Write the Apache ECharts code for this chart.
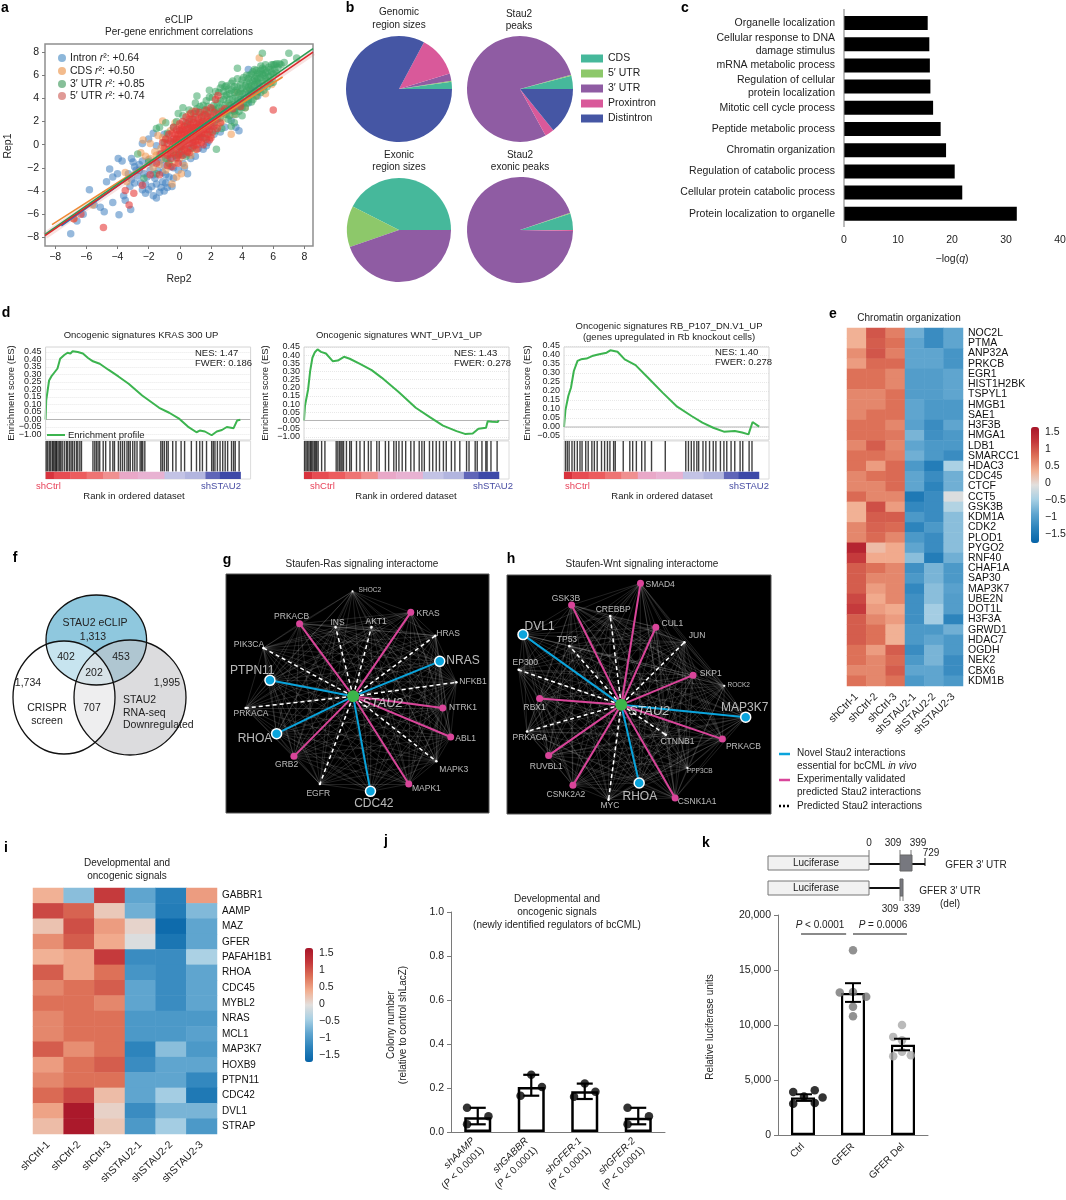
<!DOCTYPE html>
<html><head><meta charset="utf-8"><style>html,body{margin:0;padding:0;background:#fff}#c{width:1066px;height:1200px}</style>
<script src="https://cdn.jsdelivr.net/npm/echarts@6/dist/echarts.min.js"></script></head><body><div id="c"></div>
<script>
// ---------- DATA ----------
const aIntron=[[-7,-7.7],[-5.8,-3.9],[-5.1,-5.4],[-4.85,-5.8],[-4.3,-5],[-3.9,-6.05],[-3.15,-5.6],[-4.7,-3.2],[-4.5,-2.1],[-4.3,-2.8],[-4,-2.5],[-3.95,-1.2],[-3.7,-1.4],[-3.6,-4.4],[-3.5,-4.8],[-3,-1.5],[-2.9,-1.9],[-2.8,-2.2],[-2.7,-2.7],[-3.1,-3],[-3.2,-3.6],[-2.6,-1.7],[-2.5,-3.3],[-2.4,-3.9],[-2.3,-2.5],[-2.2,-4.2],[-2,-1.3],[-1.9,-2.2],[-1.8,-3.6],[-1.7,-4.4],[-1.6,-2.9],[-1.5,-4.6],[-1.4,-1.5],[-1.3,-0.8],[-1.2,-3.7],[-1.1,-2.4],[-1,-4],[-0.9,-3.3],[-0.8,-1.2],[-0.7,-2.8],[-0.6,-0.6],[-0.5,-3.6],[-0.4,-2],[-0.2,-1.2],[0,-0.4],[0.2,-1.6],[0.4,-0.8],[0.5,-2.5],[0.7,-1.2],[0.9,0.2],[1.2,-0.3],[1.5,-0.4],[1.8,0.2],[2.2,0.9],[2,1.6],[-2.4,0.1],[-2,0.5],[-1.7,1],[-1.5,-0.1],[3.6,1.5],[3.8,1.2],[4.4,3.6],[5,4.2],[4.4,6.5],[-6.2,-6],[-6.6,-6.6],[-5.5,-5.2],[-3.3,-2.5],[-3.1,-1.2],[-2.9,-3.3],[-2.6,-2.2],[-2.4,-1.4],[-2.2,-3.4],[-2.1,-2.8],[-2,-3.9],[-1.8,-1.6],[-1.7,-2.6],[-1.5,-3.4],[-1.4,-2.2],[-1.3,-4.1],[-1.2,-1.3],[-1.1,-3.2],[-1,-1.8],[-0.9,-2.6],[-0.8,-3.7],[-0.6,-1.9],[-0.5,-1.2],[-0.4,-2.9],[-0.3,-0.4],[-0.1,-2.2],[0.1,-0.9],[0.3,-2],[0.6,-0.3],[1,-1],[1.3,0.6],[1.7,-0.1],[2.6,1.1],[2.9,1.5],[3.3,2.1],[-1,0.9],[-0.7,0.4]];
const aCds=[[5.1,7.5],[-1.1,2.05],[3.3,0.9],[-2.35,0.4],[-3.5,-2.4],[-2.5,-0.7],[-2.2,-1],[-1.9,0.1],[-1.6,-0.6],[-1.4,0.8],[-1.2,-0.3],[-1,-1.2],[-0.8,0.5],[-0.6,1.2],[-0.5,-0.7],[-0.3,-1.6],[-0.1,0.7],[0.1,1.7],[0.2,-0.3],[0.4,0.9],[0.6,2.6],[0.7,-0.9],[0.9,1.5],[1.1,0.3],[1.3,2.6],[1.5,1.2],[1.8,2.1],[2,0.8],[2.3,3],[2.5,1.6],[2.9,2.6],[3.2,3.4],[3.7,4.5],[4.2,3.2],[4.6,4.7],[5.1,5],[5.5,4.4],[5.9,5.2],[-0.2,-2.8],[-0.5,-3.4],[0.1,-2.5],[-0.9,-2.2],[-1.7,-2],[0.3,-1.8],[-6.8,-6.4],[-5.6,-5.2],[-3.4,-3.2],[-1.9,-1.2],[-1.5,-0.9],[-1.3,-1.7],[-1.1,0.6],[-0.9,-0.4],[-0.7,-1.7],[-0.3,1.9],[-0.2,-0.6],[0,-1.2],[0.5,-0.6],[0.8,2.9],[1,-0.4],[1.2,1.6],[1.7,2.9],[2.1,1.9],[2.7,2],[3.5,2.6],[4,3.8],[4.9,4.2]];
const aUtr3=[[7,7.9],[5.3,7.9],[6.1,6.9],[6.4,7],[-1.5,1.4],[-1.3,1.5],[-1,0.2],[-0.8,1],[-0.6,-0.5],[-0.4,1.5],[-0.2,0.5],[-0.2,2],[0,1.2],[0,-0.8],[0.2,2.5],[0.3,0.3],[0.5,1.6],[0.6,3],[0.7,0.6],[0.9,2.2],[1,3.6],[1,1.1],[1.2,2.8],[1.3,0.9],[1.5,3.4],[1.6,1.8],[1.7,3.8],[1.8,2.7],[1.9,1.1],[2.1,3.1],[2.1,4.1],[2.2,1.9],[2.4,3.6],[2.5,4.5],[2.35,-0.4],[2.6,2.3],[2.7,3.2],[2.7,5.2],[2.9,4.2],[3,2.6],[3,5.1],[3.1,3.6],[3.3,4.7],[3.3,1.6],[3.4,3],[3.4,5.5],[3.6,4.1],[3.6,2.6],[3.7,6.6],[3.7,5],[3.8,3.3],[3.9,4.6],[4,5.6],[4,2.5],[4.1,4],[4.2,5.1],[4.2,3.2],[4.3,6],[4.4,4.4],[4.5,5.4],[4.6,3.7],[4.6,6.1],[4.7,4.9],[4.8,5.7],[4.8,6.5],[4.9,4.2],[5,5.3],[5,6.2],[5.1,4.8],[5.2,5.8],[5.3,6.6],[5.4,5.1],[5.5,6.2],[5.6,5.5],[5.7,6.7],[5.8,5.9],[5.9,6.3],[6,6.9],[6,5.4],[6.2,6.2],[6.5,6.9],[3.2,3.9],[3.5,3.5],[3.9,3.9],[4.3,4.8],[4.7,5.5],[4.4,5.7],[5.4,6],[2.9,3.4],[3.1,2.2],[2.4,2.7],[1.2,1.7],[0.8,1.3],[4.9,5.9],[5.2,6.4],[4.5,4.8],[4,4.4],[3.5,4.5],[3.2,3],[2.8,4.6],[2.2,3.4],[1.5,2.5],[-2,-1.5],[-1.5,-2.5],[-2.3,-2.9],[-2.7,-0.8],[-0.9,-1.2],[-0.3,-0.9],
[0.4,1.9],[0.6,2],[0.9,2.7],[1.1,3.1],[1.3,3.3],[1.4,2],[1.6,3],[1.8,3.3],[1.9,4.1],[2,2.4],[2.2,3],[2.3,4.6],[2.4,2.2],[2.5,3.2],[2.6,3.8],[2.6,4.9],[2.8,2.8],[2.8,3.9],[2.9,5],[3,3],[3,4.3],[3.1,4.8],[3.2,2.5],[3.2,4.4],[3.3,3.4],[3.3,5.3],[3.4,4],[3.5,2.9],[3.5,5],[3.6,3.2],[3.6,4.7],[3.7,3.8],[3.7,5.7],[3.8,4.4],[3.8,2.9],[3.9,5.2],[3.9,3.5],[4,4.9],[4,3.2],[4.1,5.8],[4.1,3.6],[4.2,4.5],[4.3,3.6],[4.3,5.4],[4.4,3.9],[4.4,5],[4.5,6],[4.5,4.2],[4.6,5.1],[4.6,4.4],[4.7,6.3],[4.7,3.9],[4.8,4.6],[4.8,5.2],[4.9,5.5],[4.9,6.4],[5,4.6],[5,5.7],[5.1,5.3],[5.1,6.1],[5.2,4.5],[5.2,6.8],[5.3,5.5],[5.3,6.1],[5.4,6.5],[5.4,4.7],[5.5,5.7],[5.5,6.9],[5.6,6.3],[5.6,5],[5.7,5.9],[5.8,6.5],[5.8,5.3],[5.9,6.9],[6,6.1],[6.1,6.5],[6.3,6.7],[6.2,7],[6.7,7.1],[7.5,7.5],[-0.7,-1.6],[-0.4,0.2],[0.1,-0.2],[0.4,-1],[0.8,-0.3],[1.6,0.6],[2.3,1.2],[2.7,1.4],[3.5,1.9],[1.1,4.2],[1.9,4.7],[0.2,3.2],[-0.1,2.7],[-0.9,1.9]];
const aUtr5=[[-4.9,-7.15],[6,3],[-3.25,-5.2],[-2.95,-4.2],[-3.5,-3.95],[-6.8,-6.4],[-6.35,-6],[2.45,4.25],[-1.2,-0.8],[-1.1,0.2],[-1,-0.3],[-0.9,0.5],[-0.8,-0.9],[-0.8,0.1],[-0.7,0.9],[-0.7,-0.4],[-0.6,0.3],[-0.6,-1.2],[-0.5,1],[-0.5,-0.2],[-0.4,0.5],[-0.4,-0.7],[-0.4,1.5],[-0.3,0],[-0.3,0.9],[-0.2,-0.4],[-0.2,0.5],[-0.2,1.3],[-0.1,-0.9],[-0.1,0.2],[-0.1,0.9],[0,-0.2],[0,0.5],[0,1.2],[0,1.8],[0.1,-0.6],[0.1,0.2],[0.1,0.9],[0.2,-0.1],[0.2,0.6],[0.2,1.3],[0.2,2],[0.3,-0.4],[0.3,0.3],[0.3,1],[0.3,1.6],[0.4,0],[0.4,0.7],[0.4,1.3],[0.5,-0.6],[0.5,0.4],[0.5,1],[0.5,1.8],[0.6,0.1],[0.6,0.8],[0.6,1.4],[0.6,2.2],[0.7,-0.3],[0.7,0.5],[0.7,1.1],[0.7,1.7],[0.8,0.2],[0.8,0.9],[0.8,1.5],[0.8,2.2],[0.9,-0.1],[0.9,0.6],[0.9,1.2],[0.9,1.9],[1,0.3],[1,0.9],[1,1.5],[1,2.4],[1.1,0],[1.1,0.7],[1.1,1.2],[1.1,1.8],[1.2,0.4],[1.2,1],[1.2,1.5],[1.2,2.2],[1.3,0.7],[1.3,1.3],[1.3,1.9],[1.4,0.2],[1.4,1],[1.4,1.6],[1.4,2.4],[1.5,0.6],[1.5,1.3],[1.5,2],[1.6,1],[1.6,1.6],[1.6,2.6],[1.7,0.5],[1.7,1.3],[1.7,2],[1.8,0.9],[1.8,1.6],[1.8,2.4],[1.9,1.3],[1.9,2],[2,1.7],[2,2.5],[2,0.6],[2.1,1.1],[2.1,2.1],[2.2,1.6],[2.2,2.8],[2.3,2.2],[2.4,1.4],[2.5,2.6],[2.6,1.9],[-1.5,-1.6],[-1.9,-2.6],[-0.5,-1.9],[-2.4,-3.5],[-0.1,-1.6],[2.3,3.9],[3.4,3.1],[3.9,3.3],[-1.3,-2.6],[-0.8,-1.8],[-0.3,0.4],[0.1,1.4],[0.4,2.4],[0.7,2.7],[1,2.9],[1.3,2.8],[1.7,3],[2,3.2],[2.7,2.9],[2.9,3.1],[-0.9,-0.7],[-0.6,-0.8],[-0.2,-1.1],[0.2,-0.9],[0.6,-0.7],[1.1,-0.4],[1.5,0],[1.9,0.4]];
const aLegend=[['Intron','+0.64'],['CDS','+0.50'],['3′ UTR','+0.85'],['5′ UTR','+0.74']];
const aFitIntron=[[-7.6,-7],[5.3,5.3]],aFitCds=[[-8.2,-6.9],[6.6,5.85]],aFitUtr3=[[-8.65,-7.75],[8.55,8.3]],aFitUtr5=[[-8.65,-7.85],[8.55,8]];
const axisTicks=[-8,-6,-4,-2,0,2,4,6,8];

const regionNames=['CDS','5′ UTR','3′ UTR','Proxintron','Distintron'];
const pieGenomic=[2.2,0.3,2.2,12.5,82.8];
const pieStau2=[4.0,0.3,78.8,2.8,14.2];
const pieExonic=[42.5,12.8,44.7,0,0];
const pieStau2Exonic=[5,0.3,94.4,0.3,0];

const goTerms=['Organelle localization','Cellular response to DNA\ndamage stimulus','mRNA metabolic process','Regulation of cellular\nprotein localization','Mitotic cell cycle process','Peptide metabolic process','Chromatin organization','Regulation of catabolic process','Cellular protein catabolic process','Protein localization to organelle'];
const goValues=[15.5,15.8,15.9,16,16.5,17.9,18.9,20.5,21.9,32];

const d1Curve=[[0,0],[0.3,0.127],[1.7,0.26],[2.8,0.287],[4.1,0.31],[5.8,0.34],[7.1,0.405],[9.1,0.43],[10.7,0.445],[12.1,0.44],[13.2,0.455],[15.7,0.45],[18.2,0.44],[20.7,0.41],[23.1,0.388],[26.4,0.372],[30.6,0.332],[35.5,0.287],[40.5,0.238],[47.1,0.16],[55.4,0.078],[60.3,0.045],[65.3,0.004],[69.4,-0.047],[73.6,-0.085],[75.2,-0.074],[77.7,-0.08],[81,-0.105],[83.5,-0.08],[86,-0.07],[88.4,-0.05],[91.7,-0.058],[93.4,-0.007],[95,-0.002]];
const d2Curve=[[0,0],[0.5,0.092],[1.3,0.098],[2,0.19],[3,0.302],[4.1,0.384],[5.3,0.418],[6.6,0.435],[8.3,0.42],[10.7,0.41],[14,0.363],[16.5,0.367],[19.5,0.39],[22.3,0.378],[27.3,0.347],[33,0.308],[38,0.261],[46.3,0.173],[54.5,0.078],[61.2,0.022],[67.8,-0.031],[74.4,-0.065],[78.5,-0.082],[82.3,-0.08],[85.1,-0.051],[88.8,-0.045],[89.6,-0.004],[91.7,-0.008],[94.5,-0.01],[95,0.002]];
const d3Curve=[[0,0],[0.7,0.094],[2.1,0.172],[3.4,0.218],[4.8,0.311],[6.6,0.367],[8.3,0.376],[11,0.38],[13.7,0.394],[17.2,0.404],[20.8,0.413],[22.6,0.426],[26.1,0.418],[29.6,0.376],[34.9,0.344],[41,0.274],[48.1,0.191],[55.2,0.113],[62.2,0.061],[67.5,0.024],[72.8,-0.004],[78,-0.026],[83.3,-0.022],[86.9,-0.031],[90,-0.041],[92,0.028],[95.2,0.002]];
const d1Hits=[0.3,1,1.8,2.5,3.3,3.8,4.5,5,5.4,6.1,6.8,7.4,8.1,9.1,10.1,10.7,11.6,12.4,13.1,14,15,15.7,16.7,17.5,23.1,24,24.8,25.6,26.4,28.1,29.3,31.4,32.8,33.6,35.5,36.5,37.5,38.5,39.7,40.5,41.3,42.5,43.5,44.6,46.1,46.8,47.4,48.4,56.2,57,57.9,59,59.8,62,63.6,66.1,67.8,71.1,73.6,75.2,76.5,78.5,81,81.8,82.6,83.8,85.1,86.4,87.6,88.8,90.7,91.7,92.5,94.4];
const d2Hits=[0.3,1,1.7,2.4,3.1,3.6,4.3,5,5.6,6.2,6.9,8.6,10.2,15.7,16.5,17.3,18,18.6,19.3,20.7,22.3,23.1,25.6,27.3,29.4,31.4,32.7,35.5,36.7,39.7,41.3,43.8,45,46.3,47.9,49.6,52.1,53.7,56.2,57.5,58.7,61.2,62.8,64.5,66.1,68,69.4,71.9,73.6,76,79.3,80.5,83.5,84.5,86.8,88.7,89.3,91.2,94.2];
const d3Hits=[0.7,1.6,2.5,3.9,5.1,6.5,7.8,8.8,10.6,11.8,13.6,14.8,16.2,18.3,19.8,21.2,22.4,24.2,25,28.9,32.1,33.5,35.3,37.9,39.5,42.7,49.4,59.4,60.7,62.1,63.4,64.8,65.7,67.8,69.2,71,72.8,74.1,76.3,78,79.4,81.5,83.3,85.9,87.2,90.3,91.7];
const rankBands=[[0,4,'#d8333d'],[4,12,'#e74c52'],[12,20,'#ec5c5e'],[20,28,'#ee7474'],[28,36,'#f09090'],[36,45,'#e9a8c8'],[45,58,'#e8b2d2'],[58,68,'#c3c3e5'],[68,78,'#b2b5df'],[78,85,'#5f65b8'],[85,95,'#3d49a8']];

const sampleLabels=['shCtrl-1','shCtrl-2','shCtrl-3','shSTAU2-1','shSTAU2-2','shSTAU2-3'];
const eGenes=['NOC2L','PTMA','ANP32A','PRKCB','EGR1','HIST1H2BK','TSPYL1','HMGB1','SAE1','H3F3B','HMGA1','LDB1','SMARCC1','HDAC3','CDC45','CTCF','CCT5','GSK3B','KDM1A','CDK2','PLOD1','PYGO2','RNF40','CHAF1A','SAP30','MAP3K7','UBE2N','DOT1L','H3F3A','GRWD1','HDAC7','OGDH','NEK2','CBX6','KDM1B'];
const eValues=[[.4,1.05,.75,-.75,-1.15,-.85],[.4,1,.85,-.85,-1.15,-.85],[.65,1.05,.75,-.85,-.85,-1.05],[.55,.9,.9,-.85,-.85,-1.05],[.85,.85,.7,-.95,-.95,-.85],[.85,.85,.7,-.95,-.95,-.85],[.7,.7,.85,-.95,-.95,-.85],[.7,.7,.85,-.85,-1,-1],[.7,.85,.85,-.85,-1,-1],[.85,.85,.7,-.9,-1.15,-.85],[.85,.85,.8,-.7,-1.1,-1],[.7,1,.7,-.85,-1,-1],[.85,.85,.75,-.75,-1,-1.15],[.85,.55,.9,-1,-1.35,-.4],[.7,.85,.9,-.85,-1.15,-.75],[.7,.7,.9,-.85,-1.25,-.75],[.9,.7,.7,-1.4,-1.15,-.05],[.4,1.1,.55,-1.2,-1.15,-.35],[.4,1,1,-1,-1.15,-.6],[.7,.95,.9,-1.25,-1,-.6],[.7,.9,.7,-1,-1.15,-.6],[1.5,.3,.45,-.85,-1.15,-.6],[1.25,.45,.45,-.6,-1.35,-.75],[1,.85,.7,-1.1,-.7,-1],[1,.7,.7,-1,-.7,-1],[1,.55,.7,-1.2,-.6,-.9],[1.15,.45,.7,-1.1,-.6,-.95],[1.25,.55,.45,-1.1,-.45,-.95],[1,.7,.55,-1.1,-.45,-1.25],[1,.85,.4,-1,-1,-.75],[1,.85,.4,-1,-.85,-1],[.85,.55,1,-1.15,-.7,-1],[.85,.7,.9,-1,-.7,-1.15],[.7,.7,1,-.85,-.85,-1.15],[.85,.7,.85,-1,-.85,-1]];
const iGenes=['GABBR1','AAMP','MAZ','GFER','PAFAH1B1','RHOA','CDC45','MYBL2','NRAS','MCL1','MAP3K7','HOXB9','PTPN11','CDC42','DVL1','STRAP'];
const iValues=[[.4,-.6,1.25,-.85,-1.3,.55],[1.15,.95,.2,-.75,-1.35,-.65],[.25,1.1,.55,.1,-1.6,-.85],[.65,1,.45,-.05,-1.45,-.85],[.4,.5,1.25,-1.15,-1.15,-.4],[1,.5,.85,-1.05,-1.15,-.85],[.7,.85,1,-.85,-1.15,-.85],[.85,.85,.7,-.85,-1.15,-.85],[.7,.85,.85,-1,-1,-1],[.7,.85,.85,-1,-1,-.9],[1,.65,.85,-1.25,-.6,-1],[.55,.85,1,-1.15,-.85,-.85],[.7,.85,.85,-.85,-.85,-1.2],[.9,1.15,.3,-.85,-.45,-1.4],[.5,1.65,.12,-1.15,-.7,-.7],[.3,1.65,.22,-1,-.45,-1]];
const heatColors=['#0664a8','#2a82bb','#5fa5cf','#a8d0e4','#e2dfdd','#f2ae90','#dd7158','#c4373a','#a81529'];

const gNames=['STAU2','SHOC2','KRAS','HRAS','NRAS','NFKB1','NTRK1','ABL1','MAPK3','MAPK1','CDC42','EGFR','GRB2','RHOA','PRKACA','PTPN11','PIK3CA','PRKACB','INS','AKT1'];
const gKinds=['hub','faint','pink','dash','blue','dash','pink','pink','dash','pink','blue','dash','pink','blue','dash','blue','dash','pink','dash','dash'];
const gX=[415,413,588,662,675,725,684,708,665,582,467,315,237,185,92,165,145,254,362,470];
const gY=[470,155,218,288,365,428,505,592,665,733,755,733,650,582,505,422,325,252,262,262];
const gTextX=[503,465,640,700,745,775,745,753,717,635,477,310,215,120,108,112,102,230,368,484];
const gTextY=[490,152,222,283,362,425,505,597,690,747,792,763,675,596,522,393,316,232,248,246];
const hNames=['STAU2','SMAD4','GSK3B','CREBBP','CUL1','JUN','DVL1','TP53','EP300','SKP1','ROCK2','RBX1','MAP3K7','PRKACA','PRKACB','CTNNB1','RUVBL1','PPP3CB','RHOA','CSNK2A2','MYC','CSNK1A1'];
const hKinds=['hub','pink','pink','dash','pink','dash','blue','dash','dash','pink','faint','pink','blue','dash','pink','dash','pink','faint','blue','pink','dash','pink'];
const hX=[378,436,229,345,482,568,83,222,70,594,688,133,752,95,682,512,160,577,432,233,340,540];
const hY=[495,130,195,228,262,307,284,318,390,406,438,476,532,575,598,585,647,685,730,737,780,775];
const hTextX=[462,495,212,354,532,606,133,215,90,647,731,118,749,104,745,547,153,614,434,212,344,606];
const hTextY=[514,133,175,208,251,288,260,300,369,400,435,505,503,594,620,605,682,695,770,765,799,787];

const vennCounts=['1,313','402','453','202','1,734','1,995','707'];

const jCats=['shAAMP','shGABBR','shGFER-1','shGFER-2'];
const jMeans=[0.067,0.205,0.185,0.065];
const jLow=[0.035,0.165,0.15,0.035];
const jHigh=[0.11,0.26,0.22,0.11];
const jDots=[[-0.2,0.11],[-0.2,0.035],[0.2,0.072],[0.8,0.165],[1,0.26],[1.2,0.205],[1.8,0.16],[2,0.22],[2.2,0.183],[2.8,0.11],[2.8,0.035],[3.2,0.072]];

const kCats=['Ctrl','GFER','GFER Del'];
const kMeans=[3400,12900,8200];
const kLow=[3100,12100,7700];
const kHigh=[3700,13800,8750];
const kCtrlDots=[[-0.22,3910],[0.22,4065],[-0.22,2850],[0.22,2900],[0.38,3400],[0,3500]];
const kGferDots=[[1,16800],[0.73,12960],[1,13000],[1.27,12560],[1,11650],[1,10800]];
const kDelDots=[[2,10000],[1.82,8920],[2,8620],[2,7560],[1.82,7160],[2.18,7250]];
const kBrackets=[[[-0.06,18270],[0.86,18270]],[[1,18270],[2.1,18270]]];

// ---------- BUILDERS ----------
const FONT='Liberation Sans',INK='#222',AX='#7a7a7a';
const grids=[],xAxes=[],yAxes=[],series=[],graphics=[],visualMaps=[];
const addGrid=o=>(grids.push(Object.assign({containLabel:false,outerBoundsMode:'none'},o)),grids.length-1);
const addX=o=>(xAxes.push(o),xAxes.length-1);
const addY=o=>(yAxes.push(o),yAxes.length-1);
const minus=v=>String(v).replace('-','−');
function txt(text,x,y,o={}){graphics.push({type:'text',x,y,rotation:o.rotation||0,z:50,silent:true,style:{text,fill:o.fill||INK,fontFamily:FONT,fontSize:o.size||10,fontWeight:o.weight||'normal',fontStyle:o.fontStyle||'normal',textAlign:o.align||'center',textVerticalAlign:'middle',rich:o.rich}})}
function seg(x1,y1,x2,y2,stroke,lineWidth,lineDash){graphics.push({type:'line',z:40,silent:true,shape:{x1,y1,x2,y2},style:{stroke,lineWidth,lineDash}})}
function box(x,y,width,height,fill,stroke,lw){graphics.push({type:'rect',z:41,silent:true,shape:{x,y,width,height},style:{fill,stroke,lineWidth:lw||1}})}
const italic=s=>({i:{fontStyle:'italic',fontFamily:FONT,fontSize:s,fill:INK}});

// panel letters
[['a',5,8],['b',350,8],['c',685,8],['d',6,313],['e',833,314],['f',15,558],['g',227,560],['h',511,559],['i',6,848],['j',386,841],['k',706,843]].forEach(p=>txt(p[0],p[1],p[2],{size:14,weight:'bold',fill:'#000'}));

// ---- a: scatter ----
(function(){
 const g=addGrid({left:45,top:44,width:268,height:202,show:true,borderColor:'#8f8f8f',borderWidth:1.5,backgroundColor:'#fff'});
 const lab={fontSize:10.5,color:INK,margin:6,formatter:minus,customValues:axisTicks};
 const x=addX({gridIndex:g,type:'value',min:-8.65,max:8.55,splitLine:{show:false},axisLine:{show:false,onZero:false},axisTick:{length:3,lineStyle:{color:AX},customValues:axisTicks},axisLabel:lab});
 const y=addY({gridIndex:g,type:'value',min:-8.75,max:8.7,splitLine:{show:false},axisLine:{show:false,onZero:false},axisTick:{length:3,lineStyle:{color:AX},customValues:axisTicks},axisLabel:lab});
 [[aIntron,'#3f80c0',.55],[aCds,'#f0984e',.55],[aUtr3,'#3ba565',.55],[aUtr5,'#e63a38',.6]].forEach(s=>series.push({type:'scatter',xAxisIndex:x,yAxisIndex:y,data:s[0],symbolSize:7.5,itemStyle:{color:s[1],opacity:s[2]},silent:true}));
 series.push({type:'line',xAxisIndex:x,yAxisIndex:y,data:aFitUtr5,symbol:'none',silent:true,lineStyle:{color:'#e07a70',width:7,opacity:.22}});
 [[aFitIntron,'#2f6fb7'],[aFitCds,'#ee8a35'],[aFitUtr3,'#2a9d55'],[aFitUtr5,'#d8282c']].forEach(s=>series.push({type:'line',xAxisIndex:x,yAxisIndex:y,data:s[0],symbol:'none',silent:true,lineStyle:{color:s[1],width:1.6}}));
 const cols=['#8db7da','#f3bb8c','#86bf98','#e09a96'];
 aLegend.forEach((l,i)=>{const yy=[58,71,84,96][i];graphics.push({type:'circle',z:45,silent:true,shape:{cx:62,cy:yy,r:4},style:{fill:cols[i]}});
  txt(l[0]+' {i|r}²: '+l[1],70,yy,{size:10.5,align:'left',rich:italic(10.5)});});
 txt('eCLIP',179,20,{size:10});txt('Per-gene enrichment correlations',179,32,{size:10});
 txt('Rep1',8,146,{size:10.5,rotation:Math.PI/2});txt('Rep2',179,279,{size:10.5});
})();

// ---- b: pies ----
const regionColors=['#46b89b','#8dc86a','#8f5ca3','#d9599a','#4556a4'];
[[pieGenomic,399,89,53],[pieStau2,520,89,53],[pieExonic,399,230,52],[pieStau2Exonic,520,230,53]].forEach(p=>{
 series.push({type:'pie',center:[p[1],p[2]],radius:[0,p[3]],startAngle:0,clockwise:false,silent:true,label:{show:false},labelLine:{show:false},
  data:p[0].map((v,i)=>({name:regionNames[i],value:v,itemStyle:{color:regionColors[i]}}))});
});
[['Genomic',399,12],['region sizes',399,25],['Stau2',519,14],['peaks',519,26],['Exonic',399,155],['region sizes',399,167],['Stau2',520,155],['exonic peaks',520,167]].forEach(t=>txt(t[0],t[1],t[2],{size:10}));

// ---- c: bars ----
(function(){
 const g=addGrid({left:844,top:12.4,width:216,height:212});
 const x=addX({gridIndex:g,type:'value',min:0,max:40,interval:10,position:'bottom',offset:3,splitLine:{show:false},axisLine:{onZero:false,lineStyle:{color:AX}},axisTick:{length:4,lineStyle:{color:AX}},axisLabel:{fontSize:10.5,color:INK,margin:7},
   name:'−log({i|q})',nameLocation:'middle',nameGap:26,nameTextStyle:{fontSize:10.5,color:INK,rich:{i:{fontStyle:'italic',fontSize:10.5,color:INK}}}});
 const y=addY({gridIndex:g,type:'category',inverse:true,data:goTerms,axisLine:{show:false,onZero:false},axisTick:{length:4,alignWithLabel:true,lineStyle:{color:AX}},axisLabel:{interval:0,fontSize:10.5,color:INK,margin:9,align:'right',lineHeight:13}});
 series.push({type:'bar',xAxisIndex:x,yAxisIndex:y,data:goValues,barWidth:14,itemStyle:{color:'#000'},silent:true});
 seg(844,9,844,227,AX,1);
})();

// ---- d: GSEA ----
function gsea(o){
 box(o.left,347,205,93,null,'#d4d4d4',1);
 const g=addGrid({left:o.left,top:o.top,width:205,height:o.h});
 const x=addX({gridIndex:g,type:'value',min:0,max:100,interval:20,axisLabel:{show:false},axisTick:{show:false},axisLine:{show:false,onZero:false},splitLine:{show:false}});
 const y=addY({gridIndex:g,type:'value',min:o.min,max:.5,interval:.05,axisLine:{show:false,onZero:false},axisTick:{show:false},splitLine:{show:true,showMinLine:false,showMaxLine:false,lineStyle:{color:'#e8e8e8',type:'dotted'}},
   axisLabel:{fontSize:9,color:INK,margin:4,formatter:v=>{if(+v>.47||+v<o.min+.01)return '';const s=(+v).toFixed(2);return s==='-0.10'?'−1.00':minus(s)}}});
 series.push({type:'line',xAxisIndex:x,yAxisIndex:y,data:[[0,0],[100,0]],symbol:'none',silent:true,lineStyle:{color:'#b5b5b5',width:1}});
 series.push({type:'line',xAxisIndex:x,yAxisIndex:y,data:o.curve,symbol:'none',silent:true,lineStyle:{color:'#3cb44f',width:2}});
 const g2=addGrid({left:o.left,top:441,width:205,height:38,show:true,borderColor:'#dcdcdc',borderWidth:1});
 const x2=addX({gridIndex:g2,type:'value',min:0,max:100,show:false});
 const y2=addY({gridIndex:g2,type:'value',min:0,max:1,show:false});
 series.push({type:'custom',xAxisIndex:x2,yAxisIndex:y2,silent:true,data:o.hits.map(h=>[h]),encode:{x:0},renderItem:(p,api)=>{const a=api.coord([api.value(0),.2]),b=api.coord([api.value(0),1]);
   return {type:'line',shape:{x1:a[0],y1:a[1],x2:b[0],y2:b[1]},style:{stroke:'rgba(0,0,0,.75)',lineWidth:1.4}}}});
 series.push({type:'custom',xAxisIndex:x2,yAxisIndex:y2,silent:true,data:rankBands,encode:{x:[0,1]},renderItem:(p,api)=>{const a=api.coord([api.value(0),.19]),b=api.coord([api.value(1),0]);
   return {type:'rect',shape:{x:a[0],y:a[1],width:b[0]-a[0]+.5,height:b[1]-a[1]},style:{fill:rankBands[p.dataIndex][2]}}}});
 o.title.forEach((t,i)=>txt(t,o.titleX,o.titleY+i*11,{size:9.5}));
 txt('NES: '+o.nes,o.nesX,o.nesY,{size:9.5,align:'left'});
 txt('FWER: '+o.fwer,o.nesX,o.nesY+10.5,{size:9.5,align:'left'});
 txt('Enrichment score (ES)',o.nameX,393,{size:9.5,rotation:Math.PI/2});
 txt('shCtrl',o.ctrlX,486,{size:9.5,fill:'#e8445a',align:'left'});
 txt('shSTAU2',o.stauX,486,{size:9.5,fill:'#474ca3',align:'right'});
 txt('Rank in ordered dataset',o.rankX,496,{size:9.5});
}
gsea({left:45.6,top:344.5,h:97.5,min:-.15,curve:d1Curve,hits:d1Hits,title:['Oncogenic signatures KRAS 300 UP'],titleX:141,titleY:335,nes:'1.47',fwer:'0.186',nesX:195,nesY:353,nameX:11,ctrlX:36,stauX:241,rankX:134});
gsea({left:304,top:338.8,h:106.2,min:-.15,curve:d2Curve,hits:d2Hits,title:['Oncogenic signatures WNT_UP.V1_UP'],titleX:399,titleY:335,nes:'1.43',fwer:'0.278',nesX:454,nesY:353,nameX:265,ctrlX:310,stauX:513,rankX:406});
gsea({left:564,top:337,h:108,min:-.1,curve:d3Curve,hits:d3Hits,title:['Oncogenic signatures RB_P107_DN.V1_UP','(genes upregulated in Rb knockout cells)'],titleX:669,titleY:326,nes:'1.40',fwer:'0.278',nesX:715,nesY:352,nameX:527,ctrlX:565,stauX:769,rankX:662});
seg(47,435,65,435,'#3cb44f',2);txt('Enrichment profile',68,435,{size:9.5,align:'left'});

// ---- e, i: heatmaps ----
function heat(o){
 const g=addGrid({left:o.left,top:o.top,width:o.w,height:o.h});
 const x=addX({gridIndex:g,type:'category',data:sampleLabels,position:'bottom',axisLine:{show:false,onZero:false},axisTick:{show:false},splitLine:{show:false},axisLabel:{interval:0,rotate:45,fontSize:10.5,color:INK,margin:9}});
 const y=addY({gridIndex:g,type:'category',inverse:true,position:'right',data:o.genes,axisLine:{show:false,onZero:false},axisTick:{show:false},splitLine:{show:false},axisLabel:{interval:0,fontSize:o.fs,color:'#111',margin:5}});
 const data=[];o.vals.forEach((r,j)=>r.forEach((v,i)=>data.push([i,j,v])));
 series.push({type:'heatmap',xAxisIndex:x,yAxisIndex:y,data,silent:true,itemStyle:{borderWidth:0},emphasis:{disabled:true}});
 visualMaps.push({type:'continuous',seriesIndex:series.length-1,min:-1.7,max:1.7,calculable:false,realtime:false,show:true,left:o.barX,top:o.barTop,padding:0,itemWidth:8,itemHeight:o.barH,text:null,inRange:{color:heatColors},hoverLink:false});
 const g2=addGrid({left:o.barX,top:o.ax15-17,width:8,height:136});
 addX({gridIndex:g2,type:'value',min:0,max:1,show:false});
 addY({gridIndex:g2,type:'value',position:'right',min:-2,max:2,interval:.5,axisLine:{show:false,onZero:false},axisTick:{show:false},splitLine:{show:false},axisLabel:{fontSize:10.5,color:INK,margin:6,formatter:v=>Math.abs(v)===2?'':minus(v)}});
}
heat({left:847,top:328,w:116,h:358,genes:eGenes,vals:eValues,fs:10.5,barX:1031,barTop:427,barH:116,ax15:432});
txt('Chromatin organization',909,318,{size:10});
heat({left:33,top:888,w:184,h:246,genes:iGenes,vals:iValues,fs:10,barX:305,barTop:948,barH:114,ax15:953});
txt('Developmental and',127,863,{size:10});txt('oncogenic signals',127,876,{size:10});

// ---- f: venn ----
(function(){
 const ell=(cx,cy,rx,ry,fill,stroke)=>graphics.push({type:'ellipse',z:stroke?35:30,silent:true,shape:{cx,cy,rx,ry},style:{fill:fill||null,stroke:stroke||null,lineWidth:1.3}});
 const T=[96.3,640,50.3,45],L=[64,697.5,51,56.5],R=[130,697.5,56,57.5];
 ell(...T,'#8fc8de');
 ell(...R,'rgba(197,197,200,.6)');
 ell(...L,'rgba(255,255,255,.5)');
 [T,L,R].forEach(e=>ell(...e,null,'#111'));
 [['STAU2 eCLIP',95,623],[vennCounts[0],93,637],[vennCounts[1],66,657],[vennCounts[2],121,657],[vennCounts[3],94,673],[vennCounts[4],28,683],[vennCounts[5],167,683],['CRISPR',47,708],['screen',47,721],[vennCounts[6],92,708]].forEach(t=>txt(t[0],t[1],t[2],{size:10.5}));
 [['STAU2',700],['RNA-seq',713],['Downregulated',725]].forEach(t=>txt(t[0],123,t[1],{size:10.5,align:'left'}));
})();

// ---- g, h: networks ----
function network(o){
 const g=addGrid({left:o.left,top:o.top,width:o.w,height:o.h,show:true,backgroundColor:'#000',borderColor:'#555',borderWidth:1});
 const x=addX({gridIndex:g,type:'value',min:o.rx[0],max:o.rx[1],show:false});
 const y=addY({gridIndex:g,type:'value',min:o.ry[0],max:o.ry[1],inverse:true,show:false});
 const colorOf={hub:'#3cb54a',pink:'#d9459a',blue:'#0aa4dc',dash:'#fff',faint:'#fff'};
 const sizeOf={hub:12,pink:7,blue:10,dash:2.5,faint:2};
 const nodes=o.names.map((n,i)=>({name:n,value:[o.xs[i],o.ys[i]],symbolSize:sizeOf[o.kinds[i]],itemStyle:{color:colorOf[o.kinds[i]],borderColor:o.kinds[i]==='blue'?'#fff':undefined,borderWidth:o.kinds[i]==='blue'?1.5:0}}));
 const links=[];
 for(let i=1;i<o.names.length;i++)for(let j=i+1;j<o.names.length;j++)links.push({source:i,target:j,lineStyle:{color:'#fff',width:.6,opacity:.22,type:'solid'}});
 o.kinds.forEach((k,i)=>{if(k==='pink')links.push({source:0,target:i,lineStyle:{color:'#d9459a',width:2,opacity:1,type:'solid'}});
  if(k==='blue')links.push({source:0,target:i,lineStyle:{color:'#0aa4dc',width:2,opacity:1,type:'solid'}});
  if(k==='dash')links.push({source:0,target:i,lineStyle:{color:'#fff',width:1.5,opacity:1,type:[4,3]}});});
 series.push({type:'graph',coordinateSystem:'cartesian2d',xAxisIndex:x,yAxisIndex:y,layout:'none',data:nodes,links,silent:true,label:{show:false},edgeSymbol:['none','none']});
 series.push({type:'scatter',xAxisIndex:x,yAxisIndex:y,symbolSize:1,itemStyle:{color:'transparent'},silent:true,z:5,
  data:o.names.map((n,i)=>{const k=o.kinds[i];const fs=k==='hub'?13:k==='blue'?12:k==='faint'?6.5:8.5;
   return {name:n,value:[o.tx[i],o.ty[i]],label:{show:true,position:'inside',formatter:n,color:'#e6e6e6',fontSize:fs,fontStyle:k==='hub'?'italic':'normal',fontFamily:FONT}}})});
}
network({left:226,top:574,w:263,h:239,rx:[33,823],ry:[103,820],names:gNames,kinds:gKinds,xs:gX,ys:gY,tx:gTextX,ty:gTextY});
network({left:507,top:575,w:264,h:239,rx:[35,828],ry:[105,823],names:hNames,kinds:hKinds,xs:hX,ys:hY,tx:hTextX,ty:hTextY});
txt('Staufen-Ras signaling interactome',362,564,{size:10});
txt('Staufen-Wnt signaling interactome',642,564,{size:10});
seg(779,754,790,754,'#0aa4dc',2.5);seg(779,780,790,780,'#d9459a',2.5);seg(779,806,790,806,'#000',2.5,[2,2]);
txt('Novel Stau2 interactions',797,753,{size:10,align:'left'});
txt('essential for bcCML {i|in vivo}',797,766,{size:10,align:'left',rich:italic(10)});
txt('Experimentally validated',797,779,{size:10,align:'left'});
txt('predicted Stau2 interactions',797,792,{size:10,align:'left'});
txt('Predicted Stau2 interactions',797,806,{size:10,align:'left'});

// ---- j, k: bar + dot plots ----
function errSeries(x,y,low,high,cap,lw){
 series.push({type:'custom',xAxisIndex:x,yAxisIndex:y,silent:true,z:4,data:low.map((l,i)=>[i,l,high[i]]),encode:{x:0,y:[1,2]},renderItem:(p,api)=>{
  const a=api.coord([api.value(0),api.value(1)]),b=api.coord([api.value(0),api.value(2)]);
  const st={stroke:'#000',lineWidth:lw};
  return {type:'group',children:[{type:'line',shape:{x1:a[0],y1:a[1],x2:b[0],y2:b[1]},style:st},{type:'line',shape:{x1:a[0]-cap,y1:a[1],x2:a[0]+cap,y2:a[1]},style:st},{type:'line',shape:{x1:b[0]-cap,y1:b[1],x2:b[0]+cap,y2:b[1]},style:st}]}}});
}
(function(){
 const g=addGrid({left:451,top:912,width:214,height:220});
 const x=addX({gridIndex:g,type:'category',data:jCats,position:'bottom',axisLine:{onZero:false,lineStyle:{color:AX}},axisTick:{alignWithLabel:true,length:4,lineStyle:{color:AX}},
  axisLabel:{interval:0,rotate:45,fontSize:10,color:INK,margin:12,lineHeight:13,align:'right',formatter:v=>'{i|'+v+'}\n({i|P} < 0.0001)',rich:{i:{fontStyle:'italic',fontSize:10,color:INK}}}});
 const xv=addX({gridIndex:g,type:'value',min:-.5,max:3.5,show:false});
 const y=addY({gridIndex:g,type:'value',min:0,max:1,interval:.2,splitLine:{show:false},axisLine:{show:true,onZero:false,lineStyle:{color:AX}},axisTick:{show:true,length:4,lineStyle:{color:AX}},axisLabel:{fontSize:10.5,color:INK,margin:7,formatter:v=>(+v).toFixed(1)}});
 series.push({type:'bar',xAxisIndex:x,yAxisIndex:y,data:jMeans,barWidth:27,silent:true,itemStyle:{color:'#fff',borderColor:'#000',borderWidth:2.5}});
 errSeries(xv,y,jLow,jHigh,8,2.2);
 series.push({type:'scatter',xAxisIndex:xv,yAxisIndex:y,data:jDots,symbolSize:8.5,silent:true,z:5,itemStyle:{color:'#000'}});
 txt('Developmental and',557,899,{size:10});txt('oncogenic signals',557,912,{size:10});txt('(newly identified regulators of bcCML)',557,925,{size:10});
 txt('Colony number',391,1025,{size:10,rotation:Math.PI/2});txt('(relative to control shLacZ)',403,1025,{size:10,rotation:Math.PI/2});
})();
(function(){
 const g=addGrid({left:778,top:915,width:150,height:220});
 const x=addX({gridIndex:g,type:'category',data:kCats,position:'bottom',axisLine:{onZero:false,lineStyle:{color:AX}},axisTick:{alignWithLabel:true,length:4,lineStyle:{color:AX}},axisLabel:{interval:0,rotate:45,fontSize:10,color:INK,margin:10}});
 const xv=addX({gridIndex:g,type:'value',min:-.53,max:2.53,show:false});
 const y=addY({gridIndex:g,type:'value',min:0,max:20000,interval:5000,splitLine:{show:false},axisLine:{show:true,onZero:false,lineStyle:{color:AX}},axisTick:{show:true,length:4,lineStyle:{color:AX}},axisLabel:{fontSize:10.5,color:INK,margin:7,formatter:v=>(+v).toLocaleString('en-US')}});
 series.push({type:'bar',xAxisIndex:x,yAxisIndex:y,data:kMeans,barWidth:24,silent:true,itemStyle:{color:'#fff',borderColor:'#000',borderWidth:2.2}});
 [[kCtrlDots,'#000'],[kGferDots,'#767676'],[kDelDots,'#a9a9a9']].forEach(s=>series.push({type:'scatter',xAxisIndex:xv,yAxisIndex:y,data:s[0],symbolSize:8.5,silent:true,z:3,itemStyle:{color:s[1]}}));
 errSeries(xv,y,kLow,kHigh,8,2);
 kBrackets.forEach(b=>series.push({type:'line',xAxisIndex:xv,yAxisIndex:y,data:b,symbol:'none',silent:true,lineStyle:{color:'#8a8a8a',width:2}}));
 txt('{i|P} < 0.0001',820,925,{size:10,rich:italic(10)});txt('{i|P} = 0.0006',883,925,{size:10,rich:italic(10)});
 txt('Relative luciferase units',710,1027,{size:10,rotation:Math.PI/2});
 box(768,856,101,14,'#f1f1f1','#777',1);box(768,881,101,14,'#f1f1f1','#777',1);
 seg(869,864,900,864,'#111',2);seg(912,864,925,864,'#111',2);seg(925,858,925,866,'#111',1);
 seg(869,850,869,856,'#777',1);seg(900,850,900,855,'#777',1);seg(911,850,911,855,'#777',1);
 box(900,855,12,16,'#77787f','#666',1);
 seg(869,888,900,888,'#111',2);box(900,879,3,17,'#77787f','#666',1);seg(900,896,900,901,'#777',1);seg(903,896,903,901,'#777',1);
 txt('Luciferase',816,863,{size:10});txt('Luciferase',816,888,{size:10});
 [['0',869,843],['309',893,843],['399',918,843],['729',931,853],['309',890,909],['339',912,909]].forEach(t=>txt(t[0],t[1],t[2],{size:10}));
 txt('GFER 3′ UTR',976,865,{size:10});txt('GFER 3′ UTR',950,891,{size:10});txt('(del)',950,904,{size:10});
})();

const chart=echarts.init(document.getElementById('c'),null,{renderer:'canvas',width:1066,height:1200});
chart.setOption({animation:false,backgroundColor:'#fff',tooltip:{show:false},textStyle:{fontFamily:FONT},
 legend:{data:regionNames,orient:'vertical',left:581,top:53,padding:0,itemWidth:22,itemHeight:8,itemGap:4,icon:'rect',selectedMode:false,textStyle:{fontSize:10.5,color:INK,fontFamily:FONT}},
 grid:grids,xAxis:xAxes,yAxis:yAxes,series,visualMap:visualMaps,graphic:{elements:graphics}});
</script></body></html>
